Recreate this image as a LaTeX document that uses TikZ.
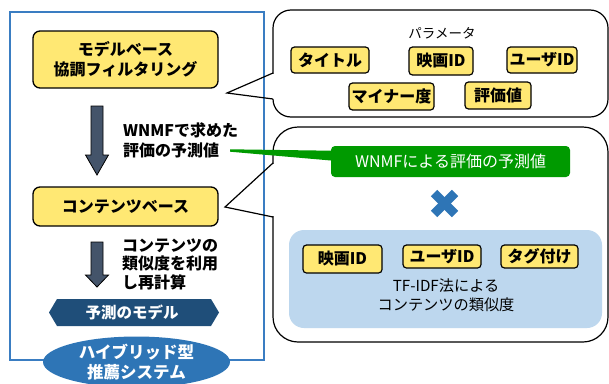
\documentclass[tikz,border=0pt]{standalone}
\usepackage{fontspec}
\setmainfont{Noto Sans CJK JP}
\usetikzlibrary{shapes.geometric}
\definecolor{ybox}{HTML}{FFE873}
\definecolor{frameblue}{HTML}{3A7DC2}
\definecolor{arrowgray}{HTML}{44546A}
\definecolor{navy}{HTML}{1F4E79}
\definecolor{lblue}{HTML}{BDD7EE}
\definecolor{gbox}{HTML}{009A00}
\definecolor{ellblue}{HTML}{2E75B6}
\newcommand\blkarr[4]{\draw[blkarrow] (#1-6,#2) -- (#1+6,#2) -- (#1+6,#3) -- (#1+11.5,#3) -- (#1,#4) -- (#1-11.5,#3) -- (#1-6,#3) -- cycle;}
\begin{document}
\begin{tikzpicture}[x=1pt,y=-1pt,
 ybig/.style={draw=black,line width=1.3pt,fill=ybox,rounded corners=7pt,font=\bfseries\fontsize{16}{20}\selectfont,align=center,inner sep=0pt},
 ysmall/.style={draw=black,line width=1.2pt,fill=ybox,rounded corners=3.5pt,font=\bfseries\fontsize{16}{18}\selectfont,inner sep=0pt},
 lbl/.style={font=\bfseries\fontsize{16}{19.5}\selectfont,align=left,inner sep=0pt},
 plain/.style={font=\fontsize{15.2}{19}\selectfont,align=center,inner sep=0pt},
 callout/.style={draw=black,line width=1.2pt,fill=white},
 ptr/.style={draw=black,line width=1.2pt,line join=miter},
 blkarrow/.style={draw=black,line width=0.8pt,fill=arrowgray},
]
\useasboundingbox (0,0) rectangle (609,383);
% left frame
\draw[frameblue,line width=2pt] (10,12) rectangle (264,360);
% callouts
\draw[callout,rounded corners=18pt] (273,10) rectangle (608,117);
\fill[white] (271,74) rectangle (275,98.5);
\draw[callout,rounded corners=25pt] (273,127) rectangle (608,342);
\fill[white] (271,164) rectangle (275,216);
% left column
\node[ybig,minimum width=185pt,minimum height=57pt] (mb) at (125.5,59.5) {モデルベース\\協調フィルタリング};
\node[ybig,minimum width=185pt,minimum height=39pt] (cb) at (125.5,206.5) {コンテンツベース};
\coordinate (ptrA) at (227,93);
\coordinate (ptrB) at (225,207);
\draw[ptr] (273,73) -- (ptrA) -- (273,99);
\draw[ptr] (273,163) -- (ptrB) -- (273,217);
\blkarr{97}{106}{155}{175}
\blkarr{97}{242}{275}{287}
\node[lbl,anchor=west] (t1) at (123,140.5) {WNMFで求めた\\評価の予測値};
\node[lbl,anchor=west,font=\bfseries\fontsize{16}{18.5}\selectfont] (t2) at (122,264) {コンテンツの\\類似度を利用\\し再計算};
\fill[navy] (49,312.5) -- (57,299) -- (211,299) -- (219,312.5) -- (211,326) -- (57,326) -- cycle;
\node[text=white,font=\bfseries\fontsize{15.5}{18}\selectfont,inner sep=0pt] (model) at (132,312.5) {予測のモデル};
\node[ellipse,fill=ellblue,minimum width=187pt,minimum height=50pt,inner sep=0pt,text=white,align=center,font=\bfseries\fontsize{16.5}{20}\selectfont] (hyb) at (136.5,362) {ハイブリッド型\\推薦システム};
% top callout content
\node[plain,font=\fontsize{13.5}{16}\selectfont] (param) at (442,33) {パラメータ};
\node[ysmall,minimum width=78pt,minimum height=26pt] (p1) at (330,60) {タイトル};
\node[ysmall,minimum width=64pt,minimum height=28pt] (p2) at (441,61) {映画ID};
\node[ysmall,minimum width=70pt,minimum height=26pt] (p3) at (542,60) {ユーザID};
\node[ysmall,minimum width=85pt,minimum height=27pt] (p4) at (391.5,96.5) {マイナー度};
\node[ysmall,minimum width=66pt,minimum height=27pt] (p5) at (498,95.5) {評価値};
% bottom callout content
\node[fill=gbox,rounded corners=4pt,minimum width=239pt,minimum height=31pt,inner sep=0pt,text=white,font=\fontsize{16}{18}\selectfont] (wn) at (450.5,161.5) {WNMFによる評価の予測値};
\draw[ellblue,line width=9pt] (434,193) -- (455,214);
\draw[ellblue,line width=9pt] (434,214) -- (455,193);
\fill[lblue] [rounded corners=15pt] (289,230) rectangle (602,328);
\node[ysmall,minimum width=79pt,minimum height=28pt] (c1) at (342.5,259) {映画ID};
\node[ysmall,minimum width=78pt,minimum height=23pt] (c2) at (442,256.5) {ユーザID};
\node[ysmall,minimum width=77pt,minimum height=23pt] (c3) at (539.5,256.5) {タグ付け};
\node[plain] (tfidf) at (446,295.5) {TF-IDF法による\\コンテンツの類似度};
% green wedge
\fill[gbox] (230,149.3) -- (wn.west |- 0,150.7) -- (wn.west |- 0,160.5) -- (230,151.7) -- cycle;
\end{tikzpicture}
\end{document}
